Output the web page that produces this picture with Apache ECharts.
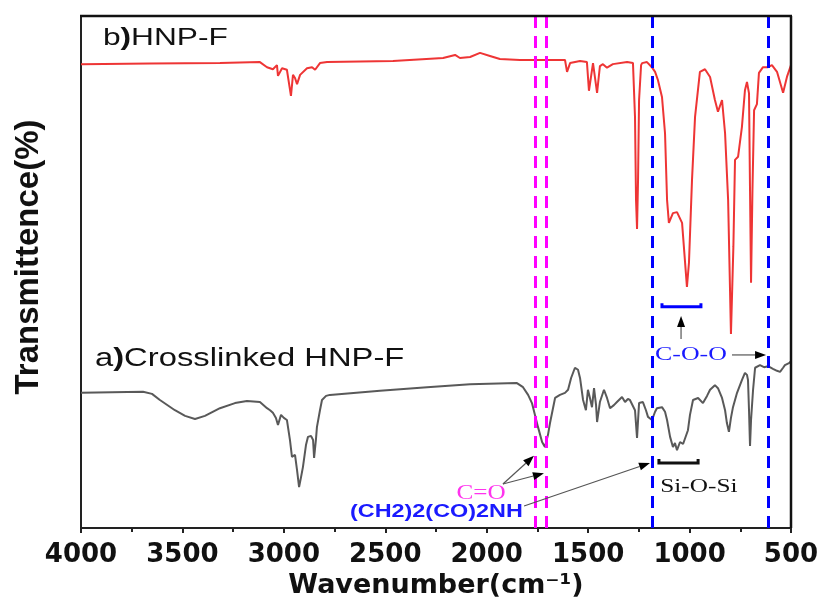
<!DOCTYPE html>
<html>
<head>
<meta charset="utf-8">
<script src="https://cdn.jsdelivr.net/npm/echarts@6/dist/echarts.min.js"></script>
<style>
  html, body { margin: 0; padding: 0; background: #fff; }
  #main { width: 822px; height: 601px; }
</style>
</head>
<body>
<div id="main"></div>
<script>
// b) HNP-F (red, upper trace)
const redWn = [4000, 3660, 3315, 3118, 3083, 3054, 3034, 3029, 3009, 2985, 2965, 2955, 2945, 2935, 2920,
  2886, 2861, 2846, 2822, 2787, 2462, 2215, 2156, 2132, 2082, 2033, 1984, 1935, 1836, 1737, 1640, 1614,
  1604, 1589, 1540, 1506, 1496, 1476, 1456, 1442, 1427, 1407, 1378, 1308, 1279, 1269, 1264, 1259, 1254,
  1249, 1239, 1234, 1210, 1186, 1170, 1156, 1136, 1121, 1111, 1102, 1082, 1062, 1037, 1013, 1003, 988,
  973, 949, 924, 899, 875, 860, 840, 825, 810, 796, 784, 776, 761, 742, 727, 717, 707, 702, 697, 690,
  682, 668, 658, 638, 613, 594, 569, 539, 520, 500]
const redT = [90.6, 90.7, 90.8, 91.0, 90.0, 89.6, 90.4, 88.3, 89.8, 89.5, 84.4, 88.5, 87.9, 86.7, 88.5,
  89.8, 90.0, 89.5, 90.8, 91.0, 91.2, 91.8, 92.4, 91.8, 92.0, 92.8, 92.2, 91.6, 91.4, 91.4, 91.4, 91.4,
  89.1, 90.8, 91.2, 91.0, 85.4, 90.8, 85.0, 90.2, 90.6, 89.9, 90.6, 91.0, 90.8, 80.3, 64.1, 58.4, 68.0,
  83.6, 90.4, 90.8, 91.0, 90.0, 89.1, 87.5, 84.2, 77.1, 64.1, 59.6, 61.5, 61.7, 59.6, 47.1, 51.8, 68.0,
  80.3, 89.1, 89.6, 88.1, 83.6, 81.3, 83.6, 77.1, 64.1, 37.9, 55.0, 71.9, 72.5, 78.3, 85.5, 87.1, 84.9,
  66.0, 47.9, 66.0, 81.6, 82.8, 88.9, 90.0, 90.0, 90.4, 89.1, 85.0, 88.1, 90.4]

// a) Crosslinked HNP-F (grey, lower trace)
const grayWn = [4000, 3694, 3650, 3611, 3537, 3487, 3438, 3389, 3315, 3241, 3182, 3118, 3083, 3068, 3054,
  3039, 3029, 3014, 3000, 2985, 2970, 2960, 2945, 2935, 2925, 2916, 2906, 2891, 2881, 2866, 2856, 2851,
  2842, 2837, 2822, 2812, 2792, 2773, 2526, 2294, 2082, 1851, 1821, 1796, 1777, 1747, 1727, 1713, 1698,
  1688, 1663, 1639, 1614, 1599, 1584, 1565, 1550, 1540, 1525, 1511, 1501, 1491, 1481, 1471, 1461, 1456,
  1442, 1422, 1407, 1392, 1373, 1358, 1333, 1318, 1304, 1294, 1269, 1259, 1249, 1230, 1215, 1205, 1185,
  1170, 1161, 1136, 1121, 1111, 1096, 1082, 1072, 1062, 1047, 1032, 1023, 1008, 998, 983, 958, 934, 914,
  899, 875, 860, 840, 825, 816, 806, 796, 786, 766, 742, 727, 717, 712, 707, 702, 697, 687, 677, 653,
  633, 613, 589, 569, 554, 539, 530, 510, 500]
const grayT = [26.4, 26.6, 26.2, 25.0, 23.0, 21.9, 21.3, 21.9, 23.4, 24.4, 24.8, 24.6, 23.4, 23.0, 22.5,
  21.5, 20.1, 22.1, 21.5, 21.1, 17.2, 13.9, 14.3, 11.3, 8.0, 9.8, 11.9, 16.2, 17.8, 18.0, 17.2, 13.7,
  17.2, 19.7, 23.0, 25.0, 25.8, 26.0, 26.8, 27.5, 28.1, 28.3, 27.5, 26.0, 24.4, 19.7, 16.8, 15.8, 18.2,
  20.5, 25.4, 26.0, 26.4, 27.0, 29.3, 31.3, 30.9, 29.3, 25.0, 23.0, 27.0, 25.4, 23.6, 27.3, 24.0, 20.7,
  24.6, 27.0, 25.4, 23.4, 24.0, 24.6, 25.6, 24.6, 25.2, 25.0, 23.0, 17.6, 24.4, 24.6, 23.0, 21.7, 21.1,
  22.7, 23.4, 23.6, 22.7, 21.1, 17.8, 15.8, 16.6, 15.2, 16.8, 16.4, 16.2, 19.1, 22.1, 25.0, 25.4, 24.4, 25.8,
  27.0, 27.9, 27.3, 25.4, 23.0, 20.5, 18.8, 21.5, 23.6, 26.4, 28.9, 30.3, 29.9, 28.9, 23.0, 16.0, 21.1, 27.0, 31.3, 31.8,
  31.4, 31.6, 31.1, 30.7, 30.5, 31.3, 31.8, 32.2, 32.6]

const xTickValues = [4000, 3500, 3000, 2500, 2000, 1500, 1000, 500]
const magentaLines = [1762, 1708]
const blueLines = [1186, 614]

const chart = echarts.init(document.getElementById('main'))

const zip = (xs, ys) => xs.map((x, i) => [x, ys[i]])
const dashLine = (v, color) => ({ xAxis: v, lineStyle: { color, width: 3, type: [12, 8] } })
const frameLine = { show: true, onZero: false, lineStyle: { color: '#222', width: 2 } }

chart.setOption({
  animation: false,
  backgroundColor: '#fff',
  grid: { left: 81, right: 31, top: 16, bottom: 73, outerBoundsMode: 'none', containLabel: false },
  xAxis: {
    type: 'value',
    min: xTickValues[xTickValues.length - 1],
    max: xTickValues[0],
    interval: 500,
    inverse: true,
    name: 'Wavenumber(cm\u207B\u00B9)',
    nameLocation: 'middle',
    nameGap: 40,
    nameTextStyle: { fontFamily: 'DejaVu Sans', fontWeight: 'bold', fontSize: 27, color: '#111' },
    axisLine: frameLine,
    axisTick: { length: 5, lineStyle: { color: '#222', width: 2 } },
    minorTick: { show: true, splitNumber: 2, length: 4, lineStyle: { color: '#222', width: 2 } },
    axisLabel: {
      margin: 14, fontFamily: 'DejaVu Sans', fontWeight: 'bold', fontSize: 26, color: '#111',
      formatter: v => String(v)
    },
    splitLine: { show: false }
  },
  yAxis: {
    type: 'value',
    min: 0,
    max: 100,
    name: 'Transmittence(%)',
    nameLocation: 'middle',
    nameGap: 36,
    nameTextStyle: { fontFamily: 'Liberation Sans', fontWeight: 'bold', fontSize: 33, color: '#111', padding: [0, 0, 0, 30] },
    axisLine: frameLine,
    axisTick: { show: false },
    axisLabel: { show: false },
    splitLine: { show: false }
  },
  series: [
    {
      name: 'HNP-F',
      type: 'line',
      data: zip(redWn, redT),
      showSymbol: false,
      lineStyle: { color: '#ee3535', width: 2 },
      z: 3
    },
    {
      name: 'Crosslinked HNP-F',
      type: 'line',
      data: zip(grayWn, grayT),
      showSymbol: false,
      lineStyle: { color: '#595959', width: 2 },
      z: 3,
      markLine: {
        silent: true,
        symbol: 'none',
        label: { show: false },
        data: magentaLines.map(v => dashLine(v, '#ff00ff')).concat(blueLines.map(v => dashLine(v, '#0000ff')))
      }
    }
  ]
})

// annotations, placed in data coordinates
const px = (wn, t) => chart.convertToPixel({ xAxisIndex: 0, yAxisIndex: 0 }, [wn, t])

function label(wn, t, text, font, color, align, sx, rich) {
  const p = px(wn, t)
  return {
    type: 'text', x: p[0], y: p[1], scaleX: sx, z: 10,
    style: { text, font, fill: color, align, verticalAlign: 'middle', rich }
  }
}

function arrow(from, to) {
  const a = px(from[0], from[1]), b = px(to[0], to[1])
  const ang = Math.atan2(b[1] - a[1], b[0] - a[0])
  const len = 11, w = 4
  const bx = b[0] - len * Math.cos(ang), by = b[1] - len * Math.sin(ang)
  return [
    { type: 'line', z: 10, shape: { x1: a[0], y1: a[1], x2: bx, y2: by }, style: { stroke: '#555', lineWidth: 1.2 } },
    { type: 'polygon', z: 10, shape: { points: [[b[0], b[1]], [bx - w * Math.sin(ang), by + w * Math.cos(ang)], [bx + w * Math.sin(ang), by - w * Math.cos(ang)]] }, style: { fill: '#000' } }
  ]
}

function bracket(wn1, wn2, t, tEnd, color) {
  const a = px(wn1, t), b = px(wn2, t)
  const ya = px(wn1, tEnd)[1]
  return {
    type: 'polyline', z: 10,
    shape: { points: [[a[0], ya], [a[0], a[1]], [b[0], b[1]], [b[0], ya]] },
    style: { stroke: color, lineWidth: 3, fill: null }
  }
}

// plot frame: top and right edges as plain lines
const tl = px(4000, 100), br = px(500, 0)
const edge = (x1, y1, x2, y2) => ({
  type: 'line', z: 20, shape: { x1, y1, x2, y2 }, style: { stroke: '#111', lineWidth: 2.5 }
})

const sans = 'Liberation Sans'
const serif = 'Liberation Serif'
chart.setOption({
  graphic: [
    edge(tl[0] - 1, tl[1], br[0] + 1, tl[1]),
    edge(br[0], tl[1], br[0], br[1]),
    label(3892, 95.6, '{n|b}{b|)}{n|HNP-F}', '24px ' + sans, '#111', 'left', 1.32,
      { n: { font: '24px ' + sans, fill: '#111' }, b: { font: 'bold 24px ' + sans, fill: '#111' } }),
    label(3931, 33.0, '{n|a}{b|)}{n|Crosslinked HNP-F}', '25px ' + sans, '#111', 'left', 1.31,
      { n: { font: '25px ' + sans, fill: '#111' }, b: { font: 'bold 25px ' + sans, fill: '#111' } }),
    label(2028, 6.8, 'C=O', '21px ' + serif, '#ff33ee', 'center', 1.2),
    label(2248, 3.1, '(CH2)2(CO)2NH', 'bold 18px ' + sans, '#1a1aff', 'center', 1.3),
    label(954, 8.0, 'Si-O-Si', '19px ' + serif, '#111', 'center', 1.33),
    label(993, 33.8, 'C-O-O', '19px ' + serif, '#1a1aff', 'center', 1.36),
    bracket(1151, 958, 12.7, 13.5, '#111'),
    bracket(1136, 944, 43.2, 43.9, '#0000ff')
  ]
    .concat(arrow([1920, 8.6], [1767, 14.1]))
    .concat(arrow([1920, 8.6], [1718, 10.7]))
    .concat(arrow([1816, 4.3], [1195, 12.7]))
    .concat(arrow([1042, 36.9], [1042, 41.4]))
    .concat(arrow([791, 33.8], [623, 33.8]))
})
</script>
</body>
</html>
